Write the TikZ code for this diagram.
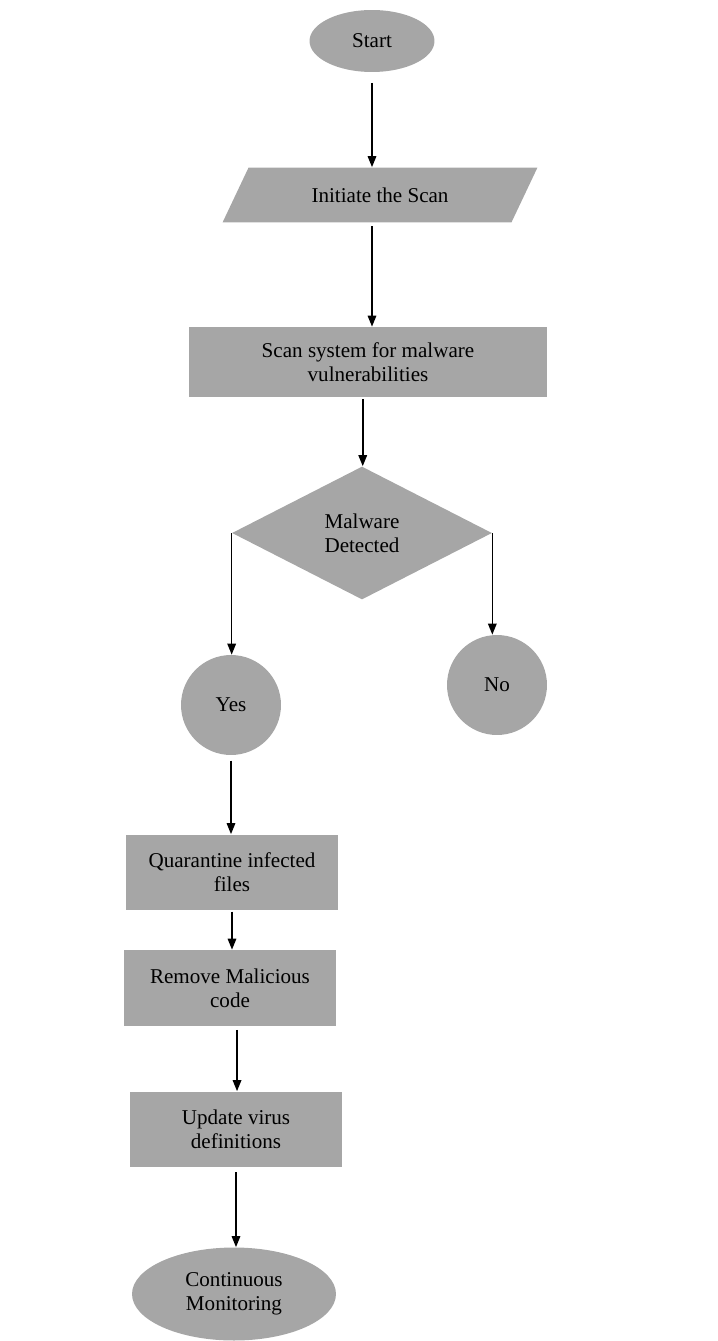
\documentclass[tikz,border=0pt]{standalone}
\usepackage{fontspec}
\setmainfont{Liberation Serif}
\usetikzlibrary{shapes.geometric,arrows.meta}
\definecolor{boxgray}{HTML}{A6A6A6}

\begin{document}
\begin{tikzpicture}[x=0.02cm, y=-0.02cm,
    box/.style={fill=boxgray, align=center, inner sep=2pt, font=\fontsize{12}{13.5}\selectfont},
    arr/.style={-{Triangle[length=2.2mm,width=1.7mm]}, line width=0.9pt}]
    \useasboundingbox (0,0) rectangle (717,1341);

    \node[box, ellipse, minimum width=2.5cm, minimum height=1.24cm] (start) at (372,41) {Start};
    \node[box, trapezium, trapezium left angle=40, trapezium right angle=140,
          trapezium stretches body, minimum width=6.3cm, minimum height=1.1cm] (init) at (380,195) {Initiate the Scan};
    \node[box, rectangle, minimum width=7.18cm, minimum height=1.4cm] (sys) at (368,362) {Scan system for malware\\vulnerabilities};
    \node[box, diamond, inner sep=0pt, minimum width=5.2cm, minimum height=2.66cm] (found) at (362,533) {Malware\\Detected};
    \node[box, circle, minimum size=2cm] (yes) at (231,705) {Yes};
    \node[box, circle, minimum size=2cm] (no) at (497,685) {No};
    \node[box, rectangle, minimum width=4.24cm, minimum height=1.5cm] (quar) at (232,872) {Quarantine infected\\files};
    \node[box, rectangle, minimum width=4.24cm, minimum height=1.52cm] (remove) at (230,988) {Remove Malicious\\code};
    \node[box, rectangle, minimum width=4.24cm, minimum height=1.5cm] (update) at (236,1129) {Update virus\\definitions};
    \node[box, ellipse, minimum width=4.08cm, minimum height=1.86cm] (monitor) at (234,1294) {Continuous\\Monitoring};

    \draw[arr] ([yshift=-6pt]start.south) -- (start.south |- init.north);
    \draw[arr] ([yshift=-2pt]init.south -| start.south) -- (start.south |- sys.north);
    \draw[arr] ([xshift=-3pt,yshift=-1pt]sys.south) -- ([xshift=-3pt]sys.south |- found.north);
    \draw[arr] (found.west) -- (found.west |- yes.north);
    \draw[arr] (found.east) -- (found.east |- no.north);
    \draw[arr] ([yshift=-3pt]yes.south) -- (yes.south |- quar.north);
    \draw[arr] ([yshift=-1pt]quar.south) -- (quar.south |- remove.north);
    \draw[arr] ([xshift=4pt,yshift=-2pt]remove.south) -- ([xshift=4pt]remove.south |- update.north);
    \draw[arr] ([yshift=-3pt]update.south) -- (update.south |- monitor.north);
\end{tikzpicture}
\end{document}
